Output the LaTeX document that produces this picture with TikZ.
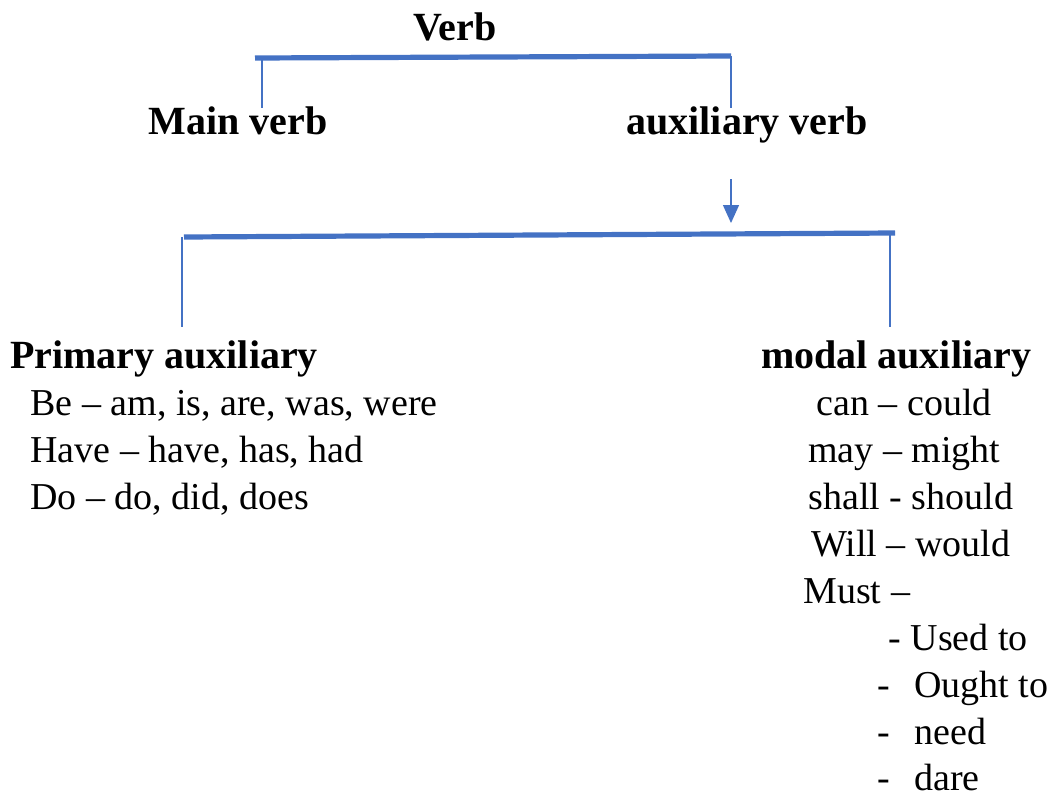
\documentclass[tikz,border=0pt]{standalone}
\usepackage{fontspec}
\setmainfont{Liberation Serif}
\usetikzlibrary{arrows.meta}
\definecolor{barblue}{HTML}{4472C4}
\tikzset{
    head/.style={font=\fontsize{20}{24}\selectfont\bfseries, inner sep=0pt, anchor=base},   % bold titles
    item/.style={font=\fontsize{19}{23}\selectfont, inner sep=0pt, anchor=base west},
    bar/.style={barblue, line width=2.6pt},
    stem/.style={barblue, line width=0.7pt}
    }

\begin{document}
\begin{tikzpicture}[x=0.5pt,y=-0.5pt]
	\useasboundingbox (0,0) rectangle (1054,798);
	% top level
	\node[head] (verb) at (455,40) {Verb};
	\node[head] (main) at (238,134) {Main verb};
	\node[head] (aux) at (747,134) {auxiliary verb};
	\coordinate (barL) at (255,58);
	\coordinate (barR) at (731,56);
	\coordinate (mainTop) at (262,108);
	\coordinate (auxTop) at (731,108);
	\draw[bar] (barL) -- (barR);
	\draw[stem] (262,58) -- (mainTop);
	\draw[stem] (barR) -- (auxTop);

	% arrow down to second level
	\coordinate (arrStart) at (731,179);
	\coordinate (arrEnd) at (731,223);
	\draw[stem,-{Triangle[length=9pt,width=8pt]}] (arrStart) -- (arrEnd);

	% second level
	\coordinate (lowL) at (184,237);
	\coordinate (lowR) at (895,233);
	\draw[bar] (lowL) -- (lowR);
	\node[head] (prim) at (164,368) {Primary auxiliary};
	\node[head] (modal) at (896,368) {modal auxiliary};
	\coordinate (primTop) at (182,327);
	\coordinate (modalTop) at (890,327);
	\draw[stem] (182,237) -- (primTop);
	\draw[stem] (890,233) -- (modalTop);

	% primary auxiliaries
	\node[item] (be) at (30,415) {Be – am, is, are, was, were};
	\node[item] (have) at (30,462) {Have – have, has, had};
	\node[item] (do) at (30,509) {Do – do, did, does};

	% modal auxiliaries
	\node[item] (can) at (816,415) {can – could};
	\node[item] (may) at (808,462) {may – might};
	\node[item] (shall) at (808,509) {shall - should};
	\node[item] (will) at (811,556) {Will – would};
	\node[item] (must) at (803,603) {Must –};
	\node[item] (used) at (888,650) {- Used to};
	\node[item] (ought) at (877,697) {\makebox[18.5pt][l]{-}Ought to};
	\node[item] (need) at (877,744) {\makebox[18.5pt][l]{-}need};
	\node[item] (dare) at (877,790) {\makebox[18.5pt][l]{-}dare};
\end{tikzpicture}
\end{document}
